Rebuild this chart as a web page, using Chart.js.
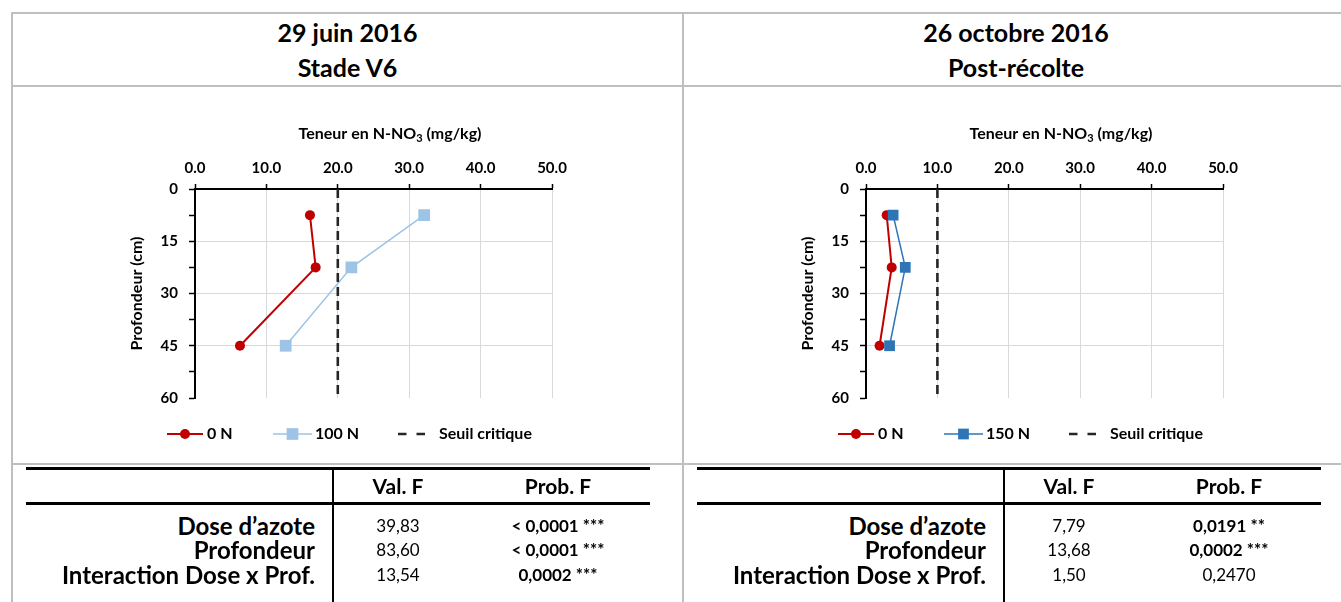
<!DOCTYPE html>
<html lang="fr">
<head>
<meta charset="utf-8">
<title>Teneur en N-NO3 selon la profondeur</title>
<script src="https://cdn.jsdelivr.net/npm/chart.js@4.4.1/dist/chart.umd.min.js"></script>
<style>
  body { margin: 0; width: 1341px; height: 602px; overflow: hidden; background: #fff;
         font-family: Lato, "Open Sans", sans-serif; color: #000; position: relative; }
  .rule { position: absolute; background: #bfbfbf; }
  .head { position: absolute; top: 15px; text-align: center; font-weight: bold;
          font-size: 25px; line-height: 35px; }
  .chartbox { position: absolute; top: 100px; width: 480px; height: 370px; }
  .bar { position: absolute; background: #000; }
  .cell { position: absolute; white-space: nowrap; height: 24px; line-height: 24px; }
  .lab { font-weight: bold; font-size: 24px; text-align: right; }
  .hdr { font-weight: bold; font-size: 21px; text-align: center; width: 200px; }
  .num { font-size: 17px; text-align: center; width: 200px; }
</style>
</head>
<body>

<div class="rule" style="left:11px;top:12px;width:1330px;height:2px"></div>
<div class="rule" style="left:11px;top:12px;width:2px;height:590px"></div>
<div class="rule" style="left:11px;top:85px;width:1330px;height:2px"></div>
<div class="rule" style="left:682px;top:12px;width:2px;height:590px"></div>
<div class="rule" style="left:11px;top:463px;width:1330px;height:2px"></div>

<div class="head" style="left:13px;width:669px">29 juin 2016<br>Stade V6</div>
<div class="head" style="left:684px;width:664px">26 octobre 2016<br>Post-récolte</div>

<div class="chartbox" style="left:100px"><canvas id="chartJuin"></canvas></div>
<div class="chartbox" style="left:771px"><canvas id="chartOct"></canvas></div>

<div id="stats"></div>

<script>
// profondeurs (cm) des prélèvements
const depths = [7.5, 22.5, 45];
// teneur en N-NO3 (mg/kg)
const juin0N = [16.1, 16.9, 6.3];
const juin100N = [32.1, 21.9, 12.7];
const oct0N = [2.9, 3.6, 1.9];
const oct150N = [3.8, 5.5, 3.3];
// seuil critique
const seuilJuin = 20;
const seuilOct = 10;
const seuilDepths = [0, 60];

const xMin = 0, xMax = 50, xStep = 10;
const depthMin = 0, depthMax = 60, depthLabelStep = 15, depthTickStep = 7.5;

// tableaux d'analyse de variance
const effects = ["Dose d’azote", "Profondeur", "Interaction Dose x Prof."];
const juinValF = ["39,83", "83,60", "13,54"];
const juinProbF = ["< 0,0001 ***", "< 0,0001 ***", "0,0002 ***"];
const octValF = ["7,79", "13,68", "1,50"];
const octProbF = ["0,0191 **", "0,0002 ***", "0,2470"];

const FONT = "Lato";
Chart.defaults.font.family = FONT;
Chart.defaults.color = "#000";

// legend slots, in canvas px: line start, line end, text x
const legendY = 334;
const legendSlots = [
  { x0: 67, x1: 103, tx: 107 },
  { x0: 173, x1: 212, tx: 215 },
  { x0: 298, x1: 325, tx: 339 }
];

const topTitle = {
  id: "topTitle",
  afterDraw(chart) {
    const ctx = chart.ctx;
    const parts = [
      { t: "Teneur en N-NO", size: 16, dy: 0 },
      { t: "3", size: 11, dy: 4 },
      { t: " (mg/kg)", size: 16, dy: 0 }
    ];
    ctx.save();
    ctx.fillStyle = "#000";
    ctx.textBaseline = "middle";
    let total = 0;
    parts.forEach(p => { ctx.font = `bold ${p.size}px ${FONT}`; p.w = ctx.measureText(p.t).width; total += p.w; });
    let x = 290 - total / 2;
    parts.forEach(p => {
      ctx.font = `bold ${p.size}px ${FONT}`;
      ctx.fillText(p.t, x, 34 + p.dy);
      x += p.w;
    });
    ctx.restore();
  }
};

const rowLegend = {
  id: "rowLegend",
  afterDraw(chart) {
    const ctx = chart.ctx;
    chart.data.datasets.forEach((ds, i) => {
      const s = legendSlots[i];
      ctx.save();
      ctx.strokeStyle = ds.borderColor;
      ctx.lineWidth = ds.borderWidth;
      ctx.setLineDash(ds.legendDash || []);
      ctx.beginPath();
      ctx.moveTo(s.x0, legendY);
      ctx.lineTo(s.x1, legendY);
      ctx.stroke();
      ctx.setLineDash([]);
      if (ds.pointRadius > 0) {
        const cx = (s.x0 + s.x1) / 2;
        ctx.fillStyle = ds.backgroundColor;
        ctx.beginPath();
        if (ds.pointStyle === "rect") {
          const h = Math.SQRT1_2 * ds.pointRadius;
          ctx.rect(cx - h, legendY - h, 2 * h, 2 * h);
        } else {
          ctx.arc(cx, legendY, ds.pointRadius, 0, Math.PI * 2);
        }
        ctx.fill();
      }
      ctx.fillStyle = "#000";
      ctx.font = `bold 16px ${FONT}`;
      ctx.textBaseline = "middle";
      ctx.fillText(ds.label, s.tx, legendY);
      ctx.restore();
    });
  }
};

function makeChart(id, series, seuil) {
  const datasets = series.map((s, k) => ({
    label: s.label,
    data: depths.map((d, i) => ({ x: s.values[i], y: d })),
    borderColor: s.color,
    backgroundColor: s.color,
    borderWidth: s.width,
    pointStyle: s.marker,
    pointRadius: s.radius,
    pointHoverRadius: s.radius,
    pointBorderWidth: 0,
    showLine: true,
    order: 3 - k
  }));
  datasets.push({
    label: "Seuil critique",
    data: seuilDepths.map(d => ({ x: seuil, y: d })),
    borderColor: "#262626",
    backgroundColor: "#262626",
    borderWidth: 2.6,
    borderDash: [9, 5],
    legendDash: [8.5, 10],
    pointRadius: 0,
    showLine: true,
    order: 1
  });

  const tickFont = { family: FONT, size: 15, weight: "bold" };

  return new Chart(document.getElementById(id), {
    type: "scatter",
    data: { datasets },
    options: {
      responsive: true,
      maintainAspectRatio: false,
      animation: false,
      layout: { padding: { left: 20, top: 0, right: 28, bottom: 72 } },
      plugins: { legend: { display: false }, tooltip: { enabled: false } },
      scales: {
        x: {
          type: "linear", position: "top", min: xMin, max: xMax,
          ticks: { stepSize: xStep, callback: v => v.toFixed(1), font: tickFont, color: "#000", padding: 7 },
          grid: {
            color: c => c.tick.value === xMin ? "rgba(0,0,0,0)" : "#d9d9d9",
            tickColor: "#000", tickLength: 5, tickWidth: 1.5
          },
          border: { color: "#000", width: 2 },
          afterFit: s => { s.height = 89; }
        },
        y: {
          type: "linear", reverse: true, min: depthMin, max: depthMax,
          ticks: {
            stepSize: depthTickStep, autoSkip: false,
            callback: v => (v % depthLabelStep === 0 ? v : ""),
            font: tickFont, color: "#000", padding: 11
          },
          grid: {
            color: c => (c.tick.value % depthLabelStep === 0 && c.tick.value > depthMin && c.tick.value < depthMax) ? "#d9d9d9" : "rgba(0,0,0,0)",
            tickColor: "#000", tickLength: 6, tickWidth: 1.5
          },
          border: { color: "#000", width: 2 },
          title: {
            display: true, text: "Profondeur (cm)", color: "#000",
            font: { family: FONT, size: 16, weight: "bold" },
            padding: { top: 7.4, bottom: 0 }
          },
          afterFit: s => { s.width = 75; }
        }
      }
    },
    plugins: [topTitle, rowLegend]
  });
}

makeChart("chartJuin", [
  { label: "0 N", values: juin0N, color: "#C00000", width: 2, marker: "circle", radius: 5 },
  { label: "100 N", values: juin100N, color: "#9DC3E6", width: 1.5, marker: "rect", radius: 8.3 }
], seuilJuin);

makeChart("chartOct", [
  { label: "0 N", values: oct0N, color: "#C00000", width: 2, marker: "circle", radius: 5 },
  { label: "150 N", values: oct150N, color: "#2E75B6", width: 1.5, marker: "rect", radius: 7.6 }
], seuilOct);

// tableaux sous les graphiques
function buildStats(dx, valF, probF) {
  const host = document.getElementById("stats");
  const add = (cls, css, text) => {
    const el = document.createElement("div");
    el.className = cls;
    el.style.cssText = css;
    if (text !== undefined) el.textContent = text;
    host.appendChild(el);
    return el;
  };
  add("bar", `left:${26 + dx}px;top:467px;width:624px;height:3px`);
  add("bar", `left:${26 + dx}px;top:502px;width:624px;height:3px`);
  add("bar", `left:${332 + dx}px;top:467px;width:2px;height:135px`);
  add("cell hdr", `left:${298 + dx}px;top:474px`, "Val. F");
  add("cell hdr", `left:${458 + dx}px;top:474px`, "Prob. F");
  const rowY = [514, 538, 563];
  effects.forEach((lab, i) => {
    add("cell lab", `left:${15 + dx}px;width:300px;top:${rowY[i]}px`, lab);
    add("cell num", `left:${298 + dx}px;top:${rowY[i]}px`, valF[i]);
    const p = add("cell num", `left:${458 + dx}px;top:${rowY[i]}px`, probF[i]);
    if (probF[i].includes("*")) p.style.fontWeight = "bold";
  });
}
buildStats(0, juinValF, juinProbF);
buildStats(671, octValF, octProbF);
</script>
</body>
</html>
